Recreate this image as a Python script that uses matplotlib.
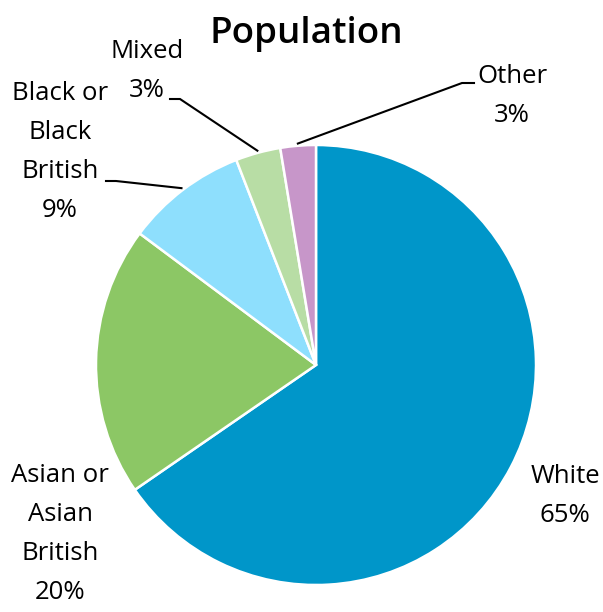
import numpy as np
import matplotlib
matplotlib.use('Agg')
import matplotlib.pyplot as plt

plt.rcParams['font.family'] = ['Open Sans', 'DejaVu Sans']

# population share by group, clockwise from 12 o'clock
groups = ['White', 'Asian or\nAsian\nBritish', 'Black or\nBlack\nBritish', 'Mixed', 'Other']
shares = [65.4, 19.8, 8.9, 3.3, 2.6]
colours = ['#0096C9', '#8CC765', '#8EDFFD', '#B8DDA5', '#C796C9']

fig = plt.figure(figsize=(6.03, 6.12), dpi=100)
# pie centre at (316, 365) px, radius 220 px
ax = fig.add_axes([96 / 603, (612 - 585) / 612, 440 / 603, 440 / 612])
wedges, _ = ax.pie(shares, colors=colours, startangle=90, counterclock=False,
                   radius=1.0, wedgeprops=dict(edgecolor='white', linewidth=1.8))
ax.set_xlim(-1, 1)
ax.set_ylim(-1, 1)
ax.set_aspect('equal')
ax.axis('off')


def px(x, y):
    # pixel position -> data coords of the pie axes
    return (x - 316) / 220, (365 - y) / 220


label_pos = [px(565, 496), px(60, 534), px(60, 152), px(147, 71), px(512, 96)]
# leader lines: start of the short horizontal stub next to the label
leaders = {2: (px(106, 181), px(116, 181)),
           3: (px(170, 99), px(180, 99)),
           4: (px(474, 83), px(462, 83))}

for i, (w, name, val) in enumerate(zip(wedges, groups, shares)):
    txt = name + '\n' + '%d%%' % round(val)
    lx, ly = label_pos[i]
    ax.text(lx, ly, txt, ha='center', va='center', fontsize=18.5,
            linespacing=1.72, color='black', clip_on=False)
    if i in leaders:
        (ax0, ay0), (ax1, ay1) = leaders[i]
        mid = np.deg2rad((w.theta1 + w.theta2) / 2)
        ex, ey = np.cos(mid) * 1.01, np.sin(mid) * 1.01
        ax.plot([ax0, ax1, ex], [ay0, ay1, ey], color='black', lw=1.5,
                clip_on=False, solid_joinstyle='miter')

fig.text(306 / 603, 1 - 43 / 612, 'Population', ha='center', va='baseline',
         fontsize=26.5, fontweight='semibold')

fig.savefig('out.png', dpi=100, facecolor='white')
